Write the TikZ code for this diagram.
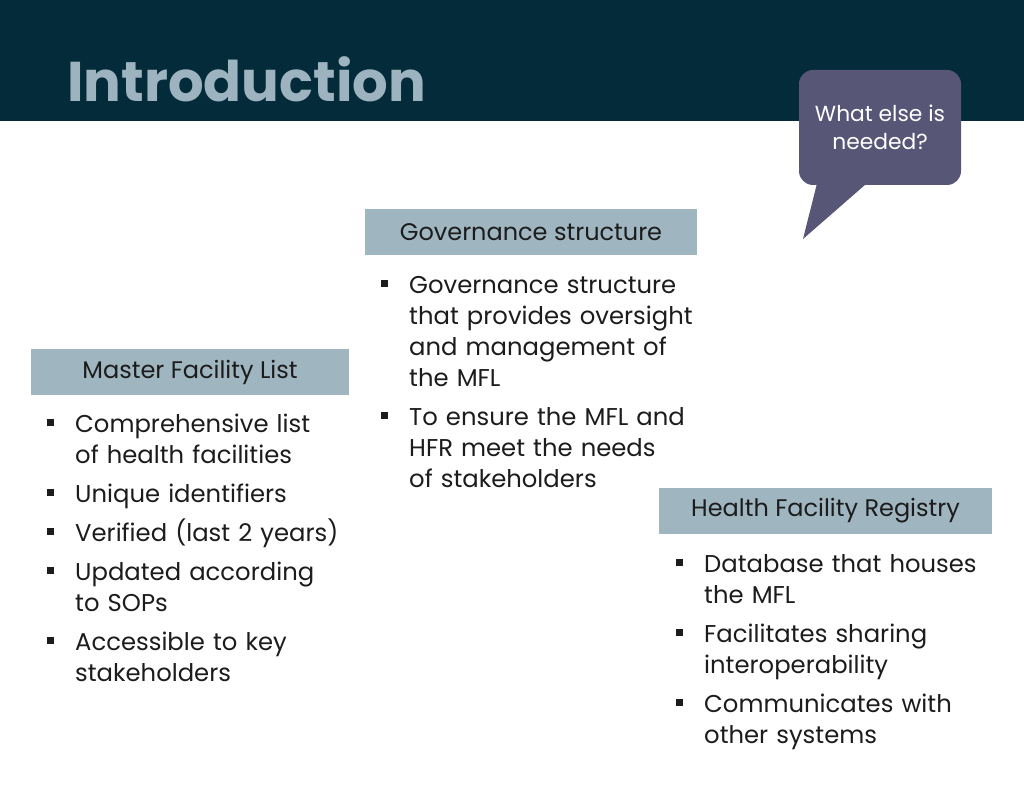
\documentclass[tikz,border=0pt]{standalone}
\usepackage{fontspec}
\setmainfont{Poppins}
\usetikzlibrary{positioning}

\definecolor{barblue}{HTML}{032B3A}
\definecolor{titlegray}{HTML}{9DB3C0}
\definecolor{headblue}{HTML}{9FB5C0}
\definecolor{bubblepurple}{HTML}{585677}
\definecolor{bodytext}{HTML}{1C1C1C}

\newcommand{\bul}{\makebox[28pt][l]{\rule[6pt]{7pt}{7pt}}}
\newcommand{\itm}[1]{\par\hangindent=28pt\hangafter=1\noindent\bul#1\par}

\tikzset{
  head/.style={fill=headblue, minimum height=46pt, inner sep=0pt, text=bodytext,
    font=\fontsize{24}{28}\selectfont},
  bullets/.style={anchor=north west, inner sep=0pt, text=bodytext,
    text width=#1, font=\fontsize{24.3}{31}\selectfont\raggedright},
}

\begin{document}
\begin{tikzpicture}[x=1pt, y=-1pt]
  \useasboundingbox (0,0) rectangle (1024,791);
  \fill[white] (0,0) rectangle (1024,791);
  % title bar
  \fill[barblue] (0,0) rectangle (1024,121);
  \node[anchor=base west, inner sep=0pt, text=titlegray, font=\fontsize{56}{66}\selectfont\bfseries]
    (title) at (67,102) {Introduction};

  % speech bubble
  \node[fill=bubblepurple, rounded corners=14pt, minimum width=162pt, minimum height=115pt,
    text=white, align=center, font=\fontsize{21.8}{28}\selectfont] (bubble) at (880,127.5)
    {What else is\\needed?};
  \fill[bubblepurple] ([xshift=18pt,yshift=1pt]bubble.south west) -- (803,239)
    -- ([xshift=67pt,yshift=1pt]bubble.south west) -- cycle;

  % headers
  \node[head, minimum width=332pt] (gov) at (531,232) {Governance structure};
  \node[head, minimum width=318pt] (mfl) at (190,372) {Master Facility List};
  \node[head, minimum width=333pt] (hfr) at (825.5,511) {Health Facility Registry};

  % lists
  \node[bullets=320pt] (govlist) at (381,262) {%
    \itm{Governance structure\newline that provides oversight\newline and management of\newline the MFL}
    \vspace{8pt}
    \itm{To ensure the MFL and\newline HFR meet the needs\newline of stakeholders}};
  \node[bullets=320pt] (mfllist) at (47,401) {%
    \itm{Comprehensive list\newline of health facilities}
    \vspace{8pt}
    \itm{Unique identifiers}
    \vspace{8pt}
    \itm{Verified (last 2 years)}
    \vspace{8pt}
    \itm{Updated according\newline to SOPs}
    \vspace{8pt}
    \itm{Accessible to key\newline stakeholders}};
  \node[bullets=340pt] (hfrlist) at (676,541) {%
    \itm{Database that houses\newline the MFL}
    \vspace{8pt}
    \itm{Facilitates sharing\newline interoperability}
    \vspace{8pt}
    \itm{Communicates with\newline other systems}};
\end{tikzpicture}
\end{document}
